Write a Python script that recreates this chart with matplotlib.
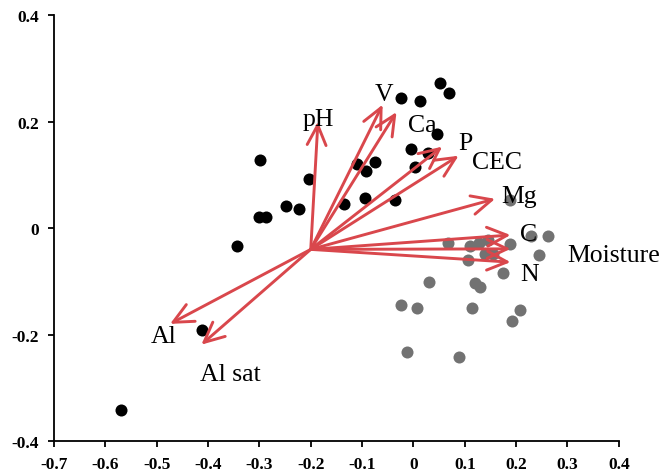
import numpy as np
import matplotlib.pyplot as plt

plt.rcParams['font.family'] = ['Liberation Serif', 'DejaVu Serif']

# sample scores, group 1 (black)
black_x = [-0.299, -0.204, -0.248, -0.223, -0.300, -0.287, -0.344, -0.411, -0.570,
           -0.024, 0.013, 0.052, 0.070, 0.046, -0.005, 0.029, 0.004,
           -0.110, -0.093, -0.074, -0.136, -0.095, -0.035]
black_y = [0.128, 0.092, 0.042, 0.036, 0.021, 0.021, -0.034, -0.191, -0.341,
           0.245, 0.238, 0.272, 0.254, 0.177, 0.149, 0.141, 0.115,
           0.120, 0.108, 0.125, 0.046, 0.057, 0.053]

# sample scores, group 2 (grey)
grey_x = [0.068, 0.110, 0.128, 0.146, 0.139, 0.107, 0.188, 0.229, 0.262, 0.245,
          0.174, 0.031, 0.119, 0.129, -0.024, 0.007, 0.114, 0.208, 0.192,
          -0.013, 0.088, 0.188, 0.155]
grey_y = [-0.028, -0.033, -0.028, -0.023, -0.048, -0.060, -0.030, -0.015, -0.015, -0.050,
          -0.084, -0.102, -0.103, -0.110, -0.145, -0.150, -0.150, -0.153, -0.175,
          -0.232, -0.242, 0.053, -0.048]

# loading vectors
origin = (-0.20, -0.04)
vec_names = ['pH', 'V', 'Ca', 'P', 'CEC', 'Mg', 'C', 'Moisture', 'N', 'Al', 'Al sat']
vec_x = [-0.186, -0.060, -0.033, 0.056, 0.088, 0.159, 0.189, 0.189, 0.189, -0.474, -0.413]
vec_y = [0.200, 0.232, 0.218, 0.153, 0.136, 0.055, -0.013, -0.039, -0.064, -0.180, -0.219]
label_x = [-0.186, -0.058, 0.017, 0.101, 0.163, 0.205, 0.224, 0.389, 0.227, -0.487, -0.357]
label_y = [0.205, 0.252, 0.194, 0.160, 0.125, 0.061, -0.011, -0.050, -0.086, -0.203, -0.274]

red = '#d9474c'

fig = plt.figure(figsize=(6.64, 4.77), dpi=100)
ax = fig.add_axes([0.0813, 0.0734, 0.8507, 0.8926])

ax.scatter(black_x, black_y, s=75, color='black', zorder=2, linewidths=0)
ax.scatter(grey_x, grey_y, s=75, color='#727272', zorder=2, linewidths=0)

for vx, vy in zip(vec_x, vec_y):
    ax.annotate('', xy=(vx, vy), xytext=origin,
                arrowprops=dict(arrowstyle='->,head_length=0.72,head_width=0.34',
                                color=red, lw=2.1, mutation_scale=20,
                                shrinkA=0, shrinkB=0),
                zorder=3)

for name, lx, ly in zip(vec_names, label_x, label_y):
    ax.text(lx, ly, name, fontsize=18.5, ha='center', va='center', zorder=4)

ax.set_xlim(-0.7, 0.4)
ax.set_ylim(-0.4, 0.4)
ax.set_xticks(np.arange(-0.7, 0.41, 0.1))
ax.set_yticks([-0.4, -0.2, 0, 0.2, 0.4])
ax.set_xticklabels(['-0.7', '-0.6', '-0.5', '-0.4', '-0.3', '-0.2', '-0.1', '0',
                    '0.1', '0.2', '0.3', '0.4'])
ax.set_yticklabels(['-0.4', '-0.2', '0', '0.2', '0.4'])
for lab in ax.get_xticklabels() + ax.get_yticklabels():
    lab.set_fontweight('bold')
    lab.set_fontsize(12.5)

ax.spines['top'].set_visible(False)
ax.spines['right'].set_visible(False)
ax.spines['left'].set_linewidth(1.3)
ax.spines['bottom'].set_linewidth(1.3)
ax.tick_params(direction='out', length=4, width=1.3, pad=7)

fig.savefig('out.png', dpi=100)
